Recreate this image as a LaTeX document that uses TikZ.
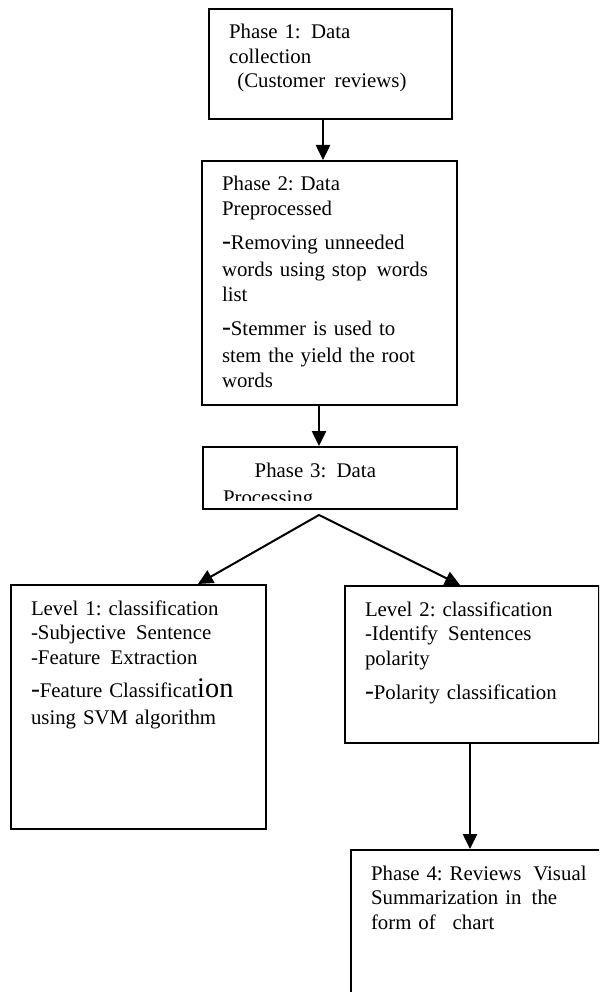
\documentclass[tikz,border=0pt]{standalone}
\usepackage{fontspec}
\setmainfont{Liberation Serif}
\usetikzlibrary{arrows.meta}
\usetikzlibrary{positioning}
\frenchspacing

\tikzset{
  >={Triangle[length=9pt,width=8.5pt]},
  phasebox/.style={draw, black, line width=1.2pt, rectangle, anchor=north west,
    align=left, inner xsep=12pt, inner ysep=9pt, text height=9pt,
    font=\fontsize{12.5pt}{14.7pt}\selectfont},
  flowarrow/.style={black, line width=1.2pt, ->}
}
\newcommand{\bigdash}{{\fontsize{16pt}{14.7pt}\selectfont -}}

\begin{document}
\begin{tikzpicture}[x=0.6pt, y=-0.6pt, line width=1.2pt]
\useasboundingbox (0,0) rectangle (599,992);
\clip (0,0) rectangle (599,992);

% phases
\node[phasebox, text width=121.8pt, text depth=39pt] (p1) at (208,8)
  {Phase 1:\hspace{2pt} Data\\collection\\\hspace*{5pt}(Customer\hspace{1.5pt} reviews)};

\node[phasebox, text width=129pt, text depth=119.4pt] (p2) at (201,160)
  {Phase 2: Data\\Preprocessed\\[6pt]
   \bigdash Removing unneeded\\[1.5pt]
   words using stop\hspace{2pt} words\\list\\[6pt]
   \bigdash Stemmer is used to\\[1.5pt]
   stem the yield the root\\words};

\node[phasebox, text width=128.4pt, text depth=10.2pt] (p3) at (202,446) {};
\begin{scope}
  \clip ([yshift=-1pt]p3.north west) rectangle ([yshift=6pt]p3.south east);
  \node[phasebox, draw=none, text width=128.4pt] (p3text) at (p3.north west)
    {\hspace*{19pt}Phase 3:\hspace{2pt} Data\\[2pt]Processing};
\end{scope}

% levels
\node[phasebox, text width=129pt, text depth=119.4pt] (l1) at (10,584)
  {Level 1: classification\\-Subjective\hspace{2pt} Sentence\\-Feature\hspace{2pt} Extraction\\[5.5pt]
   \bigdash Feature Classificat{\fontsize{17pt}{14.7pt}\selectfont ion}\\[1.5pt]
   using SVM algorithm};

\node[phasebox, text width=128.4pt, text depth=67.2pt] (l2) at (344,585)
  {Level 2: classification\\-Identify\hspace{2pt} Sentences\\polarity\\[6pt]
   \bigdash Polarity classification};

\node[phasebox, text width=141pt, text depth=69pt] (p4) at (350,849)
  {Phase 4: Reviews\hspace{3pt} Visual\\Summarization in\hspace{2pt} the\\form of\hspace{6pt} chart};

% connectors
\draw[flowarrow] ([xshift=-4.5pt]p1.south) -- ([xshift=-4.5pt]p1.south |- p2.north);
\draw[flowarrow] ([xshift=-6.3pt]p2.south) -- ([xshift=-6.3pt]p2.south |- p3.north);

% fork to both levels
\coordinate (fork) at ([xshift=-6.6pt,yshift=-3pt]p3.south);
\draw[black, line width=1.2pt, <->] ([xshift=35.7pt]l1.north) -- (fork) -- ([xshift=-7.2pt]l2.north);

\draw[flowarrow] ([xshift=-1.2pt]l2.south) -- ([xshift=-1.2pt]l2.south |- p4.north);

\end{tikzpicture}
\end{document}
